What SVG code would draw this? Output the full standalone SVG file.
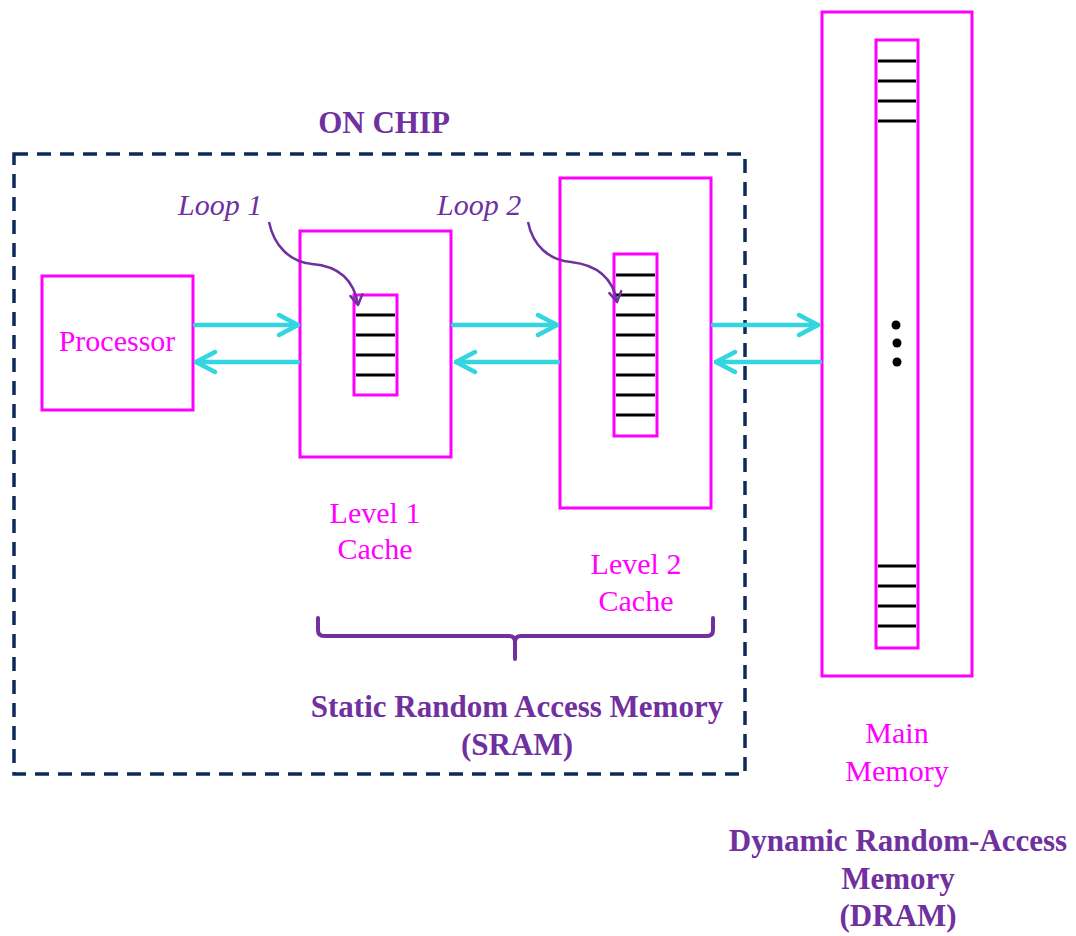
<svg xmlns="http://www.w3.org/2000/svg" width="1076" height="936" viewBox="0 0 1076 936">
  <defs>
    <marker id="chev" viewBox="0 0 24 26" refX="22" refY="13" markerWidth="24" markerHeight="26" markerUnits="userSpaceOnUse" orient="auto">
      <path d="M3,3 L22,13 L3,23" fill="none" stroke="#33d6e0" stroke-width="4.5" stroke-linecap="round" stroke-linejoin="round"/>
    </marker>
    <marker id="loopHead" viewBox="0 0 14 16" refX="12" refY="8" markerWidth="14" markerHeight="16" markerUnits="userSpaceOnUse" orient="auto">
      <path d="M2,2 L12,8 L2,14" fill="none" stroke="#7030a0" stroke-width="2.5" stroke-linecap="round" stroke-linejoin="round"/>
    </marker>
    <style>
      .box { fill: #ffffff; stroke: #ff00ff; stroke-width: 3; }
      .slot { stroke: #000000; stroke-width: 3; }
      .lbl { font-family: "Liberation Serif", "Times New Roman", serif; font-size: 30px; fill: #ff00ff; text-anchor: middle; }
      .head { font-family: "Liberation Serif", "Times New Roman", serif; font-size: 31px; font-weight: bold; fill: #7030a0; text-anchor: middle; }
      .loop { font-family: "Liberation Serif", "Times New Roman", serif; font-size: 30px; font-style: italic; fill: #7030a0; }
      .link { fill: none; stroke: #33d6e0; stroke-width: 4.5; stroke-linecap: round; marker-end: url(#chev); }
      .curve { fill: none; stroke: #7030a0; stroke-width: 2.5; marker-end: url(#loopHead); }
    </style>
  </defs>
  <rect width="1076" height="936" fill="#ffffff"/>

  <!-- on-chip boundary -->
  <g id="onchip">
    <rect x="14" y="154" width="731" height="620" fill="none" stroke="#0d2a5a" stroke-width="3.5" stroke-dasharray="14 9"/>
    <text class="head" x="384" y="133">ON CHIP</text>
  </g>

  <!-- processor -->
  <g id="processor">
    <rect class="box" x="42" y="276" width="151" height="134"/>
    <text class="lbl" x="117" y="351">Processor</text>
  </g>

  <!-- level 1 cache -->
  <g id="l1cache">
    <rect class="box" x="300" y="231" width="151" height="226"/>
    <rect class="box" x="354" y="295" width="43" height="100"/>
    <g class="slot">
      <line x1="356" y1="315" x2="395" y2="315"/>
      <line x1="356" y1="335" x2="395" y2="335"/>
      <line x1="356" y1="355" x2="395" y2="355"/>
      <line x1="356" y1="375" x2="395" y2="375"/>
    </g>
    <text class="lbl" x="375" y="523">Level 1</text>
    <text class="lbl" x="375" y="559">Cache</text>
  </g>

  <!-- level 2 cache -->
  <g id="l2cache">
    <rect class="box" x="560" y="178" width="151" height="330"/>
    <rect class="box" x="614" y="254" width="43" height="182"/>
    <g class="slot">
      <line x1="616" y1="275" x2="655" y2="275"/>
      <line x1="616" y1="295" x2="655" y2="295"/>
      <line x1="616" y1="315" x2="655" y2="315"/>
      <line x1="616" y1="335" x2="655" y2="335"/>
      <line x1="616" y1="355" x2="655" y2="355"/>
      <line x1="616" y1="375" x2="655" y2="375"/>
      <line x1="616" y1="395" x2="655" y2="395"/>
      <line x1="616" y1="415" x2="655" y2="415"/>
    </g>
    <text class="lbl" x="636" y="574">Level 2</text>
    <text class="lbl" x="636" y="611">Cache</text>
  </g>

  <!-- main memory -->
  <g id="mainmem">
    <rect class="box" x="822" y="12" width="150" height="664"/>
    <rect class="box" x="876" y="40" width="42" height="608"/>
    <g class="slot">
      <line x1="878" y1="61" x2="916" y2="61"/>
      <line x1="878" y1="81" x2="916" y2="81"/>
      <line x1="878" y1="101" x2="916" y2="101"/>
      <line x1="878" y1="121" x2="916" y2="121"/>
      <line x1="878" y1="566" x2="916" y2="566"/>
      <line x1="878" y1="586" x2="916" y2="586"/>
      <line x1="878" y1="606" x2="916" y2="606"/>
      <line x1="878" y1="626" x2="916" y2="626"/>
    </g>
    <circle cx="896" cy="325" r="4.5" fill="#000000"/>
    <circle cx="897" cy="343" r="4.5" fill="#000000"/>
    <circle cx="897" cy="362" r="4.5" fill="#000000"/>
    <text class="lbl" x="897" y="743">Main</text>
    <text class="lbl" x="897" y="781">Memory</text>
  </g>

  <!-- data paths -->
  <g id="connectors">
    <line class="link" x1="195" y1="325" x2="298" y2="325"/>
    <line class="link" x1="298" y1="362" x2="196" y2="362"/>
    <line class="link" x1="453" y1="325" x2="557" y2="325"/>
    <line class="link" x1="558" y1="362" x2="456" y2="362"/>
    <line class="link" x1="713" y1="325" x2="818" y2="325"/>
    <line class="link" x1="820" y1="362" x2="716" y2="362"/>
    <path class="curve" d="M269,222 C274,246 290,262 312,264 C338,266 354,280 358,305"/>
    <path class="curve" d="M528,222 C533,246 549,260 571,262 C598,265 613,279 617,302"/>
  </g>

  <!-- loop labels -->
  <g id="loops">
    <text class="loop" x="178" y="215">Loop 1</text>
    <text class="loop" x="437" y="215">Loop 2</text>
  </g>

  <!-- SRAM brace -->
  <g id="sram">
    <path d="M318,618 L318,630 Q318,636 324,636 L509,636 Q515,636 515,642 L515,659 M515,642 Q515,636 521,636 L707,636 Q713,636 713,630 L713,618" fill="none" stroke="#7030a0" stroke-width="4" stroke-linecap="round"/>
    <text class="head" x="517" y="717">Static Random Access Memory</text>
    <text class="head" x="517" y="755">(SRAM)</text>
  </g>

  <!-- DRAM caption -->
  <g id="dram">
    <text class="head" x="898" y="851">Dynamic Random-Access</text>
    <text class="head" x="898" y="889">Memory</text>
    <text class="head" x="898" y="926">(DRAM)</text>
  </g>
</svg>
